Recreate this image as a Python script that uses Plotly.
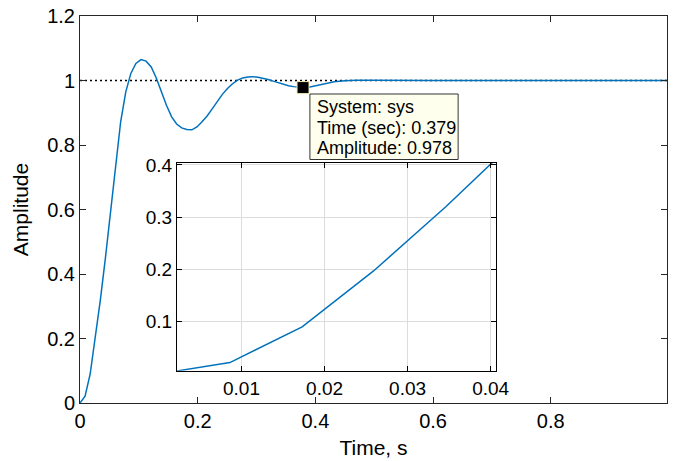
import plotly.graph_objects as go

# ---- data ----
t = [0.0, 0.0086, 0.0173, 0.0259, 0.0346, 0.0432, 0.0518, 0.0605, 0.0691, 0.0778,
     0.0864, 0.0950, 0.1037, 0.1123, 0.1210, 0.1296, 0.1382, 0.1469, 0.1555, 0.1642,
     0.1728, 0.1814, 0.1901, 0.1987, 0.2074, 0.2160, 0.2246, 0.2333, 0.2419, 0.2506,
     0.2592, 0.2678, 0.2765, 0.2851, 0.2938, 0.3024, 0.3110, 0.3197, 0.3283, 0.3370,
     0.3456, 0.3542, 0.3629, 0.3715, 0.3802, 0.3888, 0.3974, 0.4061, 0.4147, 0.4234,
     0.4320, 0.4500, 0.4700, 0.5000, 0.5500, 0.6000, 0.7000, 0.8000, 0.9000, 1.0000]
amp = [0.0, 0.0215, 0.090, 0.197, 0.320, 0.450, 0.597, 0.745, 0.872, 0.965,
       1.022, 1.053, 1.065, 1.060, 1.042, 1.008, 0.966, 0.923, 0.888, 0.865,
       0.853, 0.848, 0.847, 0.856, 0.872, 0.890, 0.912, 0.935, 0.957, 0.975,
       0.990, 1.001, 1.008, 1.011, 1.012, 1.010, 1.007, 1.003, 0.998, 0.993,
       0.988, 0.984, 0.981, 0.979, 0.978, 0.979, 0.982, 0.985, 0.989, 0.993,
       0.996, 0.999, 1.001, 1.001, 1.000, 1.000, 1.000, 1.000, 1.000, 1.000]

steady_t = [0.0, 1.0]
steady_amp = [1.0, 1.0]

tip_time = 0.379
tip_amp = 0.978
tip_system = "sys"

main_xticks = [0, 0.2, 0.4, 0.6, 0.8, 1.0]
main_xticktext = ["0", "0.2", "0.4", "0.6", "0.8", "1"]
main_yticks = [0, 0.2, 0.4, 0.6, 0.8, 1.0, 1.2]
main_yticktext = ["0", "0.2", "0.4", "0.6", "0.8", "1", "1.2"]
inset_xticks = [0.01, 0.02, 0.03, 0.04]
inset_xticktext = ["0.01", "0.02", "0.03", "0.04"]
inset_yticks = [0.1, 0.2, 0.3, 0.4]
inset_yticktext = ["0.1", "0.2", "0.3", "0.4"]

FONT = "Liberation Sans, Arial, Helvetica, sans-serif"
BLUE = "#0072BD"
AX = "#262626"

# plot area in pixels: x 80..680, y 16..403
def px(xp):
    return (xp - 80) / 600.0

def py(yp):
    return (403 - yp) / 387.0

fig = go.Figure()
fig.add_trace(go.Scatter(x=steady_t, y=steady_amp, mode="lines",
                         line=dict(color="black", width=1.5, dash="2px,3px"),
                         hoverinfo="skip"))
fig.add_trace(go.Scatter(x=t, y=amp, mode="lines",
                         line=dict(color=BLUE, width=1.5)))
fig.add_trace(go.Scatter(x=[tip_time], y=[tip_amp], mode="markers",
                         marker=dict(symbol="square", size=12, color="black",
                                     line=dict(color="#f2eab0", width=1))))
fig.add_trace(go.Scatter(x=t, y=amp, mode="lines", xaxis="x2", yaxis="y2",
                         line=dict(color=BLUE, width=1.5)))

# datatip box
fig.add_shape(type="rect", xref="paper", yref="paper",
              x0=px(315), x1=px(466.5), y0=py(159.5), y1=py(94),
              fillcolor="#FFFFEE", line=dict(color="#333333", width=1), layer="above")
tip_lines = [f"System: {tip_system}", f"Time (sec): {tip_time:.3f}", f"Amplitude: {tip_amp:.3f}"]
for i, line in enumerate(tip_lines):
    fig.add_annotation(xref="paper", yref="paper", x=px(320), y=py(107.5 + 20 * i),
                       xanchor="left", yanchor="middle", showarrow=False, align="left",
                       text=line, font=dict(family=FONT, size=18, color="black"))

tickfont_main = dict(family=FONT, size=20, color="black")
tickfont_inset = dict(family=FONT, size=19, color="black")

fig.update_layout(
    width=680, height=461,
    margin=dict(l=80, r=0, t=16, b=58),
    paper_bgcolor="white", plot_bgcolor="white",
    showlegend=False,
    font=dict(family=FONT, color="black"),
    xaxis=dict(domain=[0, 1], range=[0, 0.9975], tickvals=main_xticks, ticktext=main_xticktext,
               ticks="inside", ticklen=6, tickcolor=AX, showline=True, linecolor=AX,
               linewidth=1, mirror="ticks", showgrid=False, zeroline=False,
               tickfont=tickfont_main,
               title=dict(text="Time, s", font=dict(family=FONT, size=21, color="black"), standoff=9)),
    yaxis=dict(domain=[0, 1], range=[0, 1.2], tickvals=main_yticks, ticktext=main_yticktext,
               ticks="inside", ticklen=6, tickcolor=AX, showline=True, linecolor=AX,
               linewidth=1, mirror="ticks", showgrid=False, zeroline=False,
               tickfont=tickfont_main,
               title=dict(text="Amplitude", font=dict(family=FONT, size=21, color="black"), standoff=12)),
    xaxis2=dict(domain=[0.1655, 0.7095], anchor="y2", range=[0.00225, 0.0407],
                tickvals=inset_xticks, ticktext=inset_xticktext,
                ticks="inside", ticklen=5, tickcolor="black", showline=True, linecolor="black",
                linewidth=1.3, mirror="ticks", showgrid=True, gridcolor="#dcdcdc", gridwidth=1,
                zeroline=False, tickfont=tickfont_inset),
    yaxis2=dict(domain=[0.0835, 0.621], anchor="x2", range=[0.006, 0.4044],
                tickvals=inset_yticks, ticktext=inset_yticktext,
                ticks="inside", ticklen=5, tickcolor="black", showline=True, linecolor="black",
                linewidth=1.3, mirror="ticks", showgrid=True, gridcolor="#dcdcdc", gridwidth=1,
                zeroline=False, tickfont=tickfont_inset),
)

fig.write_html("out.html")
